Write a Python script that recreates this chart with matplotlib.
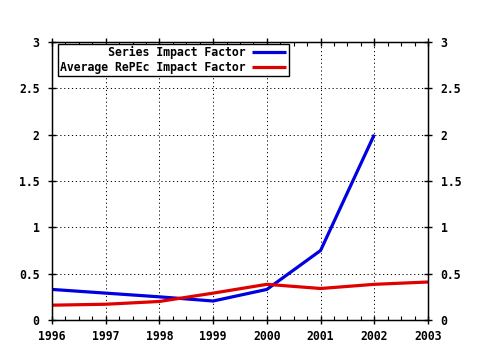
import matplotlib
matplotlib.use('Agg')
import matplotlib.pyplot as plt
from matplotlib.ticker import MultipleLocator

# Valores de los factores de impacto por año
years_series = [1996, 1997, 1998, 1999, 2000, 2001, 2002]
series_if = [0.33, 0.29, 0.25, 0.205, 0.33, 0.75, 2.0]

years_avg = [1996, 1997, 1998, 1999, 2000, 2001, 2002, 2003]
avg_if = [0.16, 0.17, 0.20, 0.29, 0.385, 0.34, 0.385, 0.41]

y_ticks = [0, 0.5, 1, 1.5, 2, 2.5, 3]
y_labels = ['0', '0.5', '1', '1.5', '2', '2.5', '3']

plt.rcParams['font.family'] = 'DejaVu Sans Mono'
plt.rcParams['font.weight'] = 'bold'
plt.rcParams['font.size'] = 8.3

fig = plt.figure(figsize=(4.8, 3.5), dpi=100)
ax = fig.add_axes([52 / 480, 30 / 350, 376 / 480, 278 / 350])

# Líneas de ambas series
ax.plot(years_series, series_if, color='#0000e0', lw=2.3, solid_capstyle='butt',
        label='       Series Impact Factor')
ax.plot(years_avg, avg_if, color='#e00000', lw=2.3, solid_capstyle='butt',
        label='Average RePEc Impact Factor')

ax.set_xlim(1996, 2003)
ax.set_ylim(0, 3)
ax.set_xticks(range(1996, 2004))
ax.xaxis.set_minor_locator(MultipleLocator(0.25))
ax.set_yticks(y_ticks)
ax.set_yticklabels(y_labels)

ax.grid(True, which='major', color='black', linestyle=(0, (1.2, 2.8)), linewidth=0.7)

for s in ax.spines.values():
    s.set_linewidth(1.0)

ax.tick_params(axis='x', which='major', direction='inout', length=6, width=1,
               top=True, pad=4)
ax.tick_params(axis='x', which='minor', direction='in', length=3, width=0.8, top=True)
ax.tick_params(axis='y', which='major', direction='inout', length=6, width=1, pad=6)

# Eje derecho con las mismas etiquetas
ax2 = ax.twinx()
ax2.set_ylim(0, 3)
ax2.set_yticks(y_ticks)
ax2.set_yticklabels(y_labels)
ax2.tick_params(axis='y', direction='inout', length=6, width=1, pad=6)

leg = ax.legend(loc='upper left', bbox_to_anchor=(6 / 376, 1 - 2 / 278),
                borderaxespad=0, markerfirst=False, fancybox=False,
                framealpha=1, edgecolor='black', handlelength=3.0,
                handletextpad=0.5, labelspacing=0.15, borderpad=0.2)
leg.get_frame().set_linewidth(1.0)

fig.savefig('out.png', dpi=100, facecolor='white')
